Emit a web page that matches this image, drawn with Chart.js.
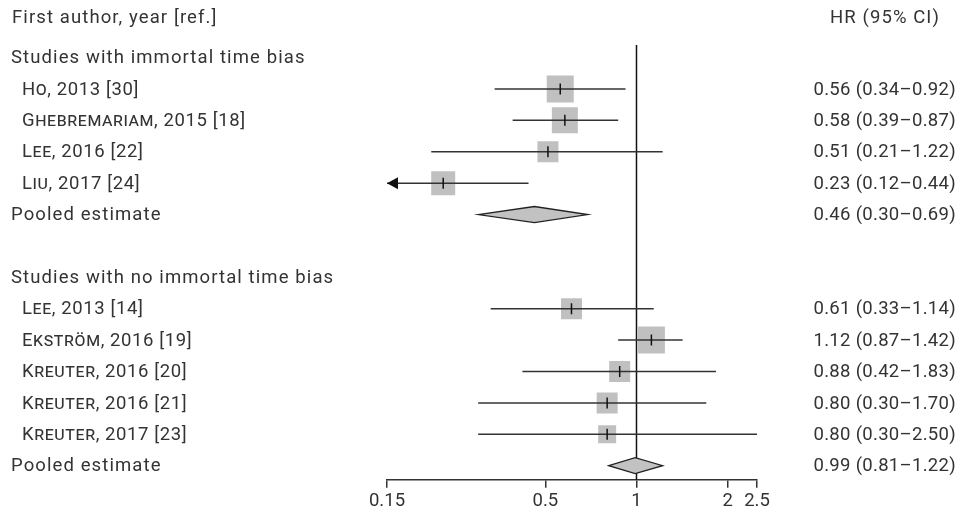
<!DOCTYPE html>
<html>
<head>
<meta charset="utf-8">
<script src="https://cdn.jsdelivr.net/npm/chart.js@4"></script>
<style>
  body { margin: 0; background: #fff; }
  canvas { display: block; }
</style>
</head>
<body>
<canvas id="forest" width="973" height="517"></canvas>
<script>
// Forest plot - HR (95% CI), log scale

const studyLabels = ['Ho, 2013 [30]', 'Ghebremariam, 2015 [18]', 'Lee, 2016 [22]', 'Liu, 2017 [24]',
    'Lee, 2013 [14]', 'Ekström, 2016 [19]', 'Kreuter, 2016 [20]', 'Kreuter, 2016 [21]', 'Kreuter, 2017 [23]'];
const studyRows = [1, 2, 3, 4, 8, 9, 10, 11, 12];
const studyHr = [0.56, 0.58, 0.51, 0.23, 0.61, 1.12, 0.88, 0.80, 0.80];
const studyLow = [0.34, 0.39, 0.21, 0.12, 0.33, 0.87, 0.42, 0.30, 0.30];
const studyHigh = [0.92, 0.87, 1.22, 0.44, 1.14, 1.42, 1.83, 1.70, 2.50];
const studyWeight = [27, 26, 21, 24, 21, 27, 21, 21, 18];

const groupLabels = ['Studies with immortal time bias', 'Studies with no immortal time bias'];
const groupRows = [0, 7];
const pooledRows = [5, 13];
const pooledHr = [0.46, 0.99];
const pooledLow = [0.30, 0.81];
const pooledHigh = [0.69, 1.22];

const xTicks = [0.15, 0.5, 1, 2, 2.5];

const FONT = 'Roboto, "DejaVu Sans", sans-serif';
const TEXT = '#333';
const fmt = v => v.toFixed(2);

// one line dataset per confidence interval
const ciSets = studyRows.map((r, i) => ({
    data: [{ x: studyLow[i], y: r }, { x: studyHigh[i], y: r }],
    showLine: true,
    borderColor: '#333',
    borderWidth: 1.5,
    pointRadius: 0,
    order: 2
}));

const forestPlugin = {
    id: 'forest',
    beforeDatasetsDraw(chart) {
        const { ctx, chartArea, scales: { x } } = chart;
        const px = x.getPixelForValue(1);
        ctx.save();
        ctx.strokeStyle = '#111';
        ctx.lineWidth = 1.5;
        ctx.beginPath();
        ctx.moveTo(px, chartArea.top);
        ctx.lineTo(px, chartArea.bottom);
        ctx.stroke();
        ctx.restore();
    },
    afterDatasetsDraw(chart) {
        const { ctx, chartArea, scales: { x, y } } = chart;
        ctx.save();

        // pooled diamonds
        pooledRows.forEach((r, i) => {
            const py = y.getPixelForValue(r);
            ctx.beginPath();
            ctx.moveTo(x.getPixelForValue(pooledLow[i]), py);
            ctx.lineTo(x.getPixelForValue(pooledHr[i]), py - 8);
            ctx.lineTo(x.getPixelForValue(pooledHigh[i]), py);
            ctx.lineTo(x.getPixelForValue(pooledHr[i]), py + 8);
            ctx.closePath();
            ctx.fillStyle = '#c2c2c2';
            ctx.fill();
            ctx.strokeStyle = '#222';
            ctx.lineWidth = 1.3;
            ctx.stroke();
        });

        // arrows for CIs running off the axis
        studyRows.forEach((r, i) => {
            if (studyLow[i] >= x.min) return;
            const py = y.getPixelForValue(r);
            const tip = chartArea.left;
            ctx.beginPath();
            ctx.moveTo(tip, py);
            ctx.lineTo(tip + 11, py - 6);
            ctx.lineTo(tip + 11, py + 6);
            ctx.closePath();
            ctx.fillStyle = '#111';
            ctx.fill();
        });

        // left column text
        ctx.fillStyle = TEXT;
        ctx.textBaseline = 'middle';
        ctx.textAlign = 'left';
        ctx.font = '18.5px ' + FONT;
        ctx.letterSpacing = '1.1px';
        ctx.fillText('First author, year [ref.]', 12, 18);
        groupRows.forEach((r, i) => ctx.fillText(groupLabels[i], 11, y.getPixelForValue(r) + 1));
        pooledRows.forEach(r => ctx.fillText('Pooled estimate', 11, y.getPixelForValue(r) + 1));
        ctx.font = 'small-caps 18.5px ' + FONT;
        ctx.letterSpacing = '0.6px';
        studyRows.forEach((r, i) => ctx.fillText(studyLabels[i], 22, y.getPixelForValue(r) + 1));

        // right column text
        ctx.font = '18.5px ' + FONT;
        ctx.letterSpacing = '1.1px';
        ctx.textAlign = 'center';
        ctx.fillText('HR (95% CI)', 885, 18);
        ctx.letterSpacing = '0.3px';
        ctx.textAlign = 'right';
        studyRows.forEach((r, i) => {
            ctx.fillText(`${fmt(studyHr[i])} (${fmt(studyLow[i])}–${fmt(studyHigh[i])})`, 956, y.getPixelForValue(r) + 1);
        });
        pooledRows.forEach((r, i) => {
            ctx.fillText(`${fmt(pooledHr[i])} (${fmt(pooledLow[i])}–${fmt(pooledHigh[i])})`, 956, y.getPixelForValue(r) + 1);
        });
        ctx.restore();
    }
};

new Chart(document.getElementById('forest'), {
    type: 'scatter',
    data: {
        datasets: [
            {
                // study weight boxes
                data: studyRows.map((r, i) => ({ x: studyHr[i], y: r })),
                pointStyle: 'rect',
                pointRadius: studyWeight.map(w => w * Math.SQRT1_2),
                backgroundColor: '#c0c0c0',
                borderWidth: 0,
                order: 3
            },
            ...ciSets,
            {
                // point estimates
                data: studyRows.map((r, i) => ({ x: studyHr[i], y: r })),
                pointStyle: 'line',
                rotation: 90,
                pointRadius: 5.5,
                borderColor: '#111',
                borderWidth: 1.5,
                order: 1
            }
        ]
    },
    options: {
        responsive: false,
        animation: false,
        layout: { padding: { left: 387, right: 216, top: 45, bottom: 3 } },
        plugins: { legend: { display: false }, tooltip: { enabled: false } },
        scales: {
            x: {
                type: 'logarithmic',
                min: 0.15,
                max: 2.5,
                afterBuildTicks: axis => { axis.ticks = xTicks.map(v => ({ value: v })); },
                ticks: {
                    callback: v => String(v),
                    autoSkip: false,
                    maxRotation: 0,
                    padding: 2,
                    color: TEXT,
                    font: { family: FONT, size: 18.5 }
                },
                grid: { drawOnChartArea: false, drawTicks: true, tickLength: 8, color: '#333', lineWidth: 1.5 },
                border: { display: true, color: '#333', width: 1.5 }
            },
            y: {
                type: 'linear',
                min: -0.4,
                max: 13.45,
                reverse: true,
                display: false
            }
        }
    },
    plugins: [forestPlugin]
});
</script>
</body>
</html>
